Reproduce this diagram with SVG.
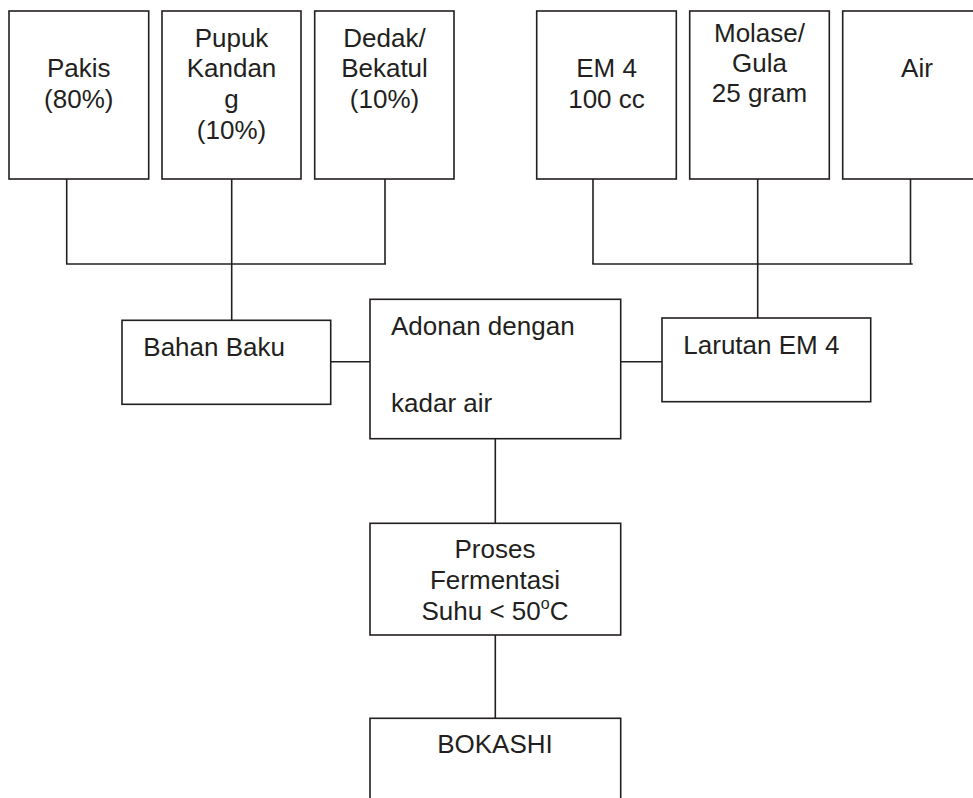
<svg xmlns="http://www.w3.org/2000/svg" width="973" height="798" viewBox="0 0 973 798">
<style>
rect.box{fill:#ffffff;stroke:#231f20;stroke-width:1.6}
.conn line{stroke:#231f20;stroke-width:1.6}
text{font-family:"Liberation Sans",Arial,sans-serif;font-size:26px;fill:#231f20}
text.c{text-anchor:middle}
</style>
<rect width="973" height="798" fill="#ffffff"/>
<g id="connectors" class="conn">
<line x1="66.7" y1="179" x2="66.7" y2="264"/>
<line x1="231.7" y1="179" x2="231.7" y2="320.3"/>
<line x1="385" y1="179" x2="385" y2="264"/>
<line x1="66" y1="264" x2="386" y2="264"/>
<line x1="593" y1="179" x2="593" y2="264"/>
<line x1="757.7" y1="179" x2="757.7" y2="320.7"/>
<line x1="910.5" y1="179" x2="910.5" y2="264"/>
<line x1="592.2" y1="264" x2="912.7" y2="264"/>
<line x1="330.7" y1="361.7" x2="372" y2="361.7"/>
<line x1="620.7" y1="361.7" x2="664" y2="361.7"/>
<line x1="495.3" y1="438.7" x2="495.3" y2="523.3"/>
<line x1="495.3" y1="635" x2="495.3" y2="718.3"/>
</g>
<g id="pakis"><rect class="box" x="9" y="11" width="139.7" height="168"/>
<text class="c" x="78.8" y="77.3">Pakis</text><text class="c" x="78.8" y="108">(80%)</text></g>
<g id="pupuk"><rect class="box" x="162" y="11" width="139" height="168"/>
<text class="c" x="231.5" y="46.7">Pupuk</text><text class="c" x="231.5" y="77.3">Kandan</text><text class="c" x="231.5" y="108">g</text><text class="c" x="231.5" y="138.7">(10%)</text></g>
<g id="dedak"><rect class="box" x="314.7" y="11" width="139.3" height="168"/>
<text class="c" x="384.5" y="46.7">Dedak/</text><text class="c" x="384.5" y="77.3">Bekatul</text><text class="c" x="384.5" y="108">(10%)</text></g>
<g id="em4"><rect class="box" x="536.7" y="11" width="139.6" height="168"/>
<text class="c" x="606.5" y="76.7">EM 4</text><text class="c" x="606.5" y="107.7">100 cc</text></g>
<g id="molase"><rect class="box" x="689.7" y="11" width="139.6" height="168"/>
<text class="c" x="759.5" y="42">Molase/</text><text class="c" x="759.5" y="72.3">Gula</text><text class="c" x="759.5" y="101.7">25 gram</text></g>
<g id="air"><rect class="box" x="842.7" y="11" width="150" height="168"/>
<text class="c" x="917" y="77.3">Air</text></g>
<g id="bahan-baku"><rect class="box" x="122" y="320.3" width="208.7" height="84"/>
<text x="143.3" y="356">Bahan Baku</text></g>
<g id="adonan"><rect class="box" x="370" y="299.3" width="250.7" height="139.4"/>
<text x="391" y="335">Adonan dengan</text><text x="391" y="411.7">kadar air</text></g>
<g id="larutan"><rect class="box" x="662" y="318" width="208.7" height="83.7"/>
<text x="683.3" y="354">Larutan EM 4</text></g>
<g id="proses"><rect class="box" x="370" y="523.3" width="250.7" height="111.7"/>
<text class="c" x="495" y="558.3">Proses</text><text class="c" x="495" y="589">Fermentasi</text>
<text class="c" x="495" y="620">Suhu &lt; 50<tspan font-size="16" dy="-11">o</tspan><tspan dy="11">C</tspan></text></g>
<g id="bokashi"><rect class="box" x="370" y="718.3" width="250.7" height="100"/>
<text class="c" x="495" y="753.3">BOKASHI</text></g>
</svg>
